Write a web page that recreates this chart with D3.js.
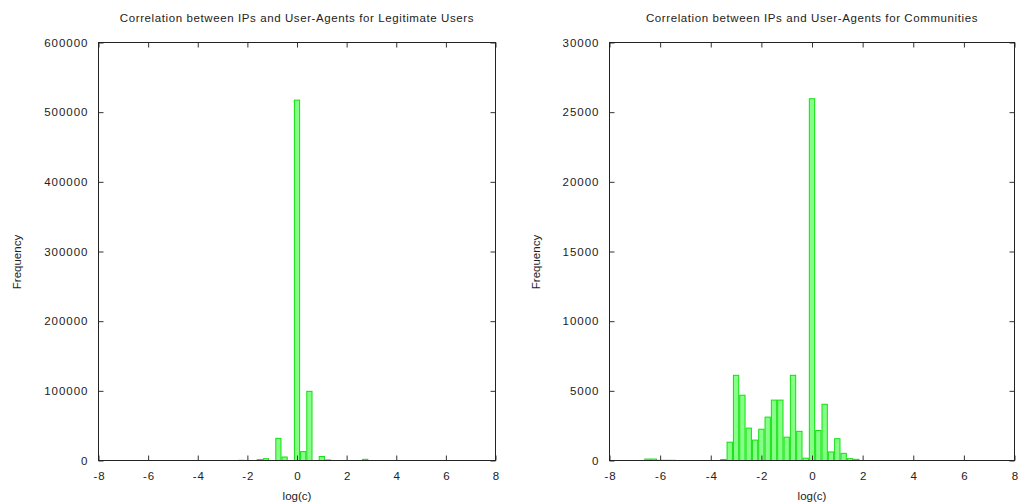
<!DOCTYPE html>
<html>
<head>
<meta charset="utf-8">
<script src="https://cdn.jsdelivr.net/npm/d3@7/dist/d3.min.js"></script>
<style>
  html, body { margin: 0; padding: 0; background: #fff; }
  svg { display: block; }
  text { font-family: "Liberation Sans", Arial, sans-serif; fill: #222; }
</style>
</head>
<body>
<svg id="chart" width="1018" height="503"></svg>
<script>
// Histogram bin centres (log(c), bin width 0.25) and counts
const binWidth = 0.25;

const legitBins   = [-2.25, -2.0, -1.75, -1.5, -1.25, -1.0, -0.75, -0.5, 0.0, 0.25, 0.5, 1.0, 1.25, 2.75];
const legitCounts = [1000, 800, 700, 2000, 3300, 700, 32500, 5700, 518000, 13500, 100000, 6500, 1500, 2400];

const commBins   = [-6.5, -6.25, -6.0, -5.75, -5.5, -3.5, -3.25, -3.0, -2.75, -2.5, -2.25, -2.0, -1.75, -1.5, -1.25,
                    -1.0, -0.75, -0.5, -0.25, 0.0, 0.25, 0.5, 0.75, 1.0, 1.25, 1.5, 1.75];
const commCounts = [140, 140, 50, 50, 50, 110, 1350, 6150, 4720, 2360, 1500, 2280, 3150, 4370, 4370,
                    1710, 6150, 2130, 200, 26000, 2190, 4070, 650, 1600, 550, 170, 120];

const xTicks = [-8, -6, -4, -2, 0, 2, 4, 6, 8];
const legitYTicks = [0, 100000, 200000, 300000, 400000, 500000, 600000];
const commYTicks  = [0, 5000, 10000, 15000, 20000, 25000, 30000];

const svg = d3.select("#chart");
const plain = d => String(d);

function drawPanel(opt) {
  const { left, right, top, bottom, yMax, yTicks, bins, counts, title, ylabelX } = opt;
  const x = d3.scaleLinear().domain([-8, 8]).range([left, right]);
  const y = d3.scaleLinear().domain([0, yMax]).range([bottom, top]);
  const g = svg.append("g");

  // bars
  const data = bins.map((b, i) => ({ b, v: counts[i] }));
  g.selectAll("rect.bar").data(data).enter().append("rect")
    .attr("class", "bar")
    .attr("x", d => x(d.b - binWidth / 2) + 0.5)
    .attr("width", d => x(d.b + binWidth / 2) - x(d.b - binWidth / 2) - 1)
    .attr("y", d => y(d.v) + 0.5)
    .attr("height", d => Math.max(0, y(0) - y(d.v) - 0.5))
    .attr("fill", "#86ff86")
    .attr("stroke", "#10e010")
    .attr("stroke-width", 1);

  // axes with inward ticks on all four sides
  const tick = 5;
  const bottomAxis = d3.axisBottom(x).tickValues(xTicks).tickSize(-tick).tickPadding(11).tickFormat(plain);
  const topAxis = d3.axisTop(x).tickValues(xTicks).tickSize(-tick).tickFormat("");
  const leftAxis = d3.axisLeft(y).tickValues(yTicks).tickSize(-tick).tickPadding(10).tickFormat(plain);
  const rightAxis = d3.axisRight(y).tickValues(yTicks).tickSize(-tick).tickFormat("");

  const gb = g.append("g").attr("transform", `translate(0,${bottom})`).call(bottomAxis);
  const gt = g.append("g").attr("transform", `translate(0,${top})`).call(topAxis);
  const gl = g.append("g").attr("transform", `translate(${left},0)`).call(leftAxis);
  const gr = g.append("g").attr("transform", `translate(${right},0)`).call(rightAxis);
  [gb, gt, gl, gr].forEach(a => {
    a.select(".domain").remove();
    a.selectAll(".tick line").attr("stroke", "#333");
    a.selectAll("text").attr("font-size", 11.5).attr("fill", "#222")
      .style("letter-spacing", "1px")
      .style("font-family", "'Liberation Sans', Arial, sans-serif");
  });
  // x labels are centred on their ticks; offset the trailing letter-spacing
  gb.selectAll("text").attr("dx", "0.5px");

  // frame
  g.append("rect")
    .attr("x", left).attr("y", top)
    .attr("width", right - left).attr("height", bottom - top)
    .attr("fill", "none").attr("stroke", "#222").attr("stroke-width", 1);

  // title and axis labels
  g.append("text").attr("x", (left + right) / 2).attr("y", 22)
    .attr("text-anchor", "middle").attr("font-size", 11.5)
    .style("letter-spacing", "0.6px").text(title);
  g.append("text").attr("x", (left + right) / 2).attr("y", 500)
    .attr("text-anchor", "middle").attr("font-size", 11.5).text("log(c)");
  g.append("text")
    .attr("transform", `translate(${ylabelX},262) rotate(-90)`)
    .attr("text-anchor", "middle").attr("font-size", 11.5).text("Frequency");
}

drawPanel({
  left: 98.5, right: 495.5, top: 42.5, bottom: 460.5,
  yMax: 600000, yTicks: legitYTicks,
  bins: legitBins, counts: legitCounts,
  title: "Correlation between IPs and User-Agents for Legitimate Users",
  ylabelX: 21
});

drawPanel({
  left: 609.5, right: 1014.5, top: 42.5, bottom: 460.5,
  yMax: 30000, yTicks: commYTicks,
  bins: commBins, counts: commCounts,
  title: "Correlation between IPs and User-Agents for Communities",
  ylabelX: 540
});
</script>
</body>
</html>
